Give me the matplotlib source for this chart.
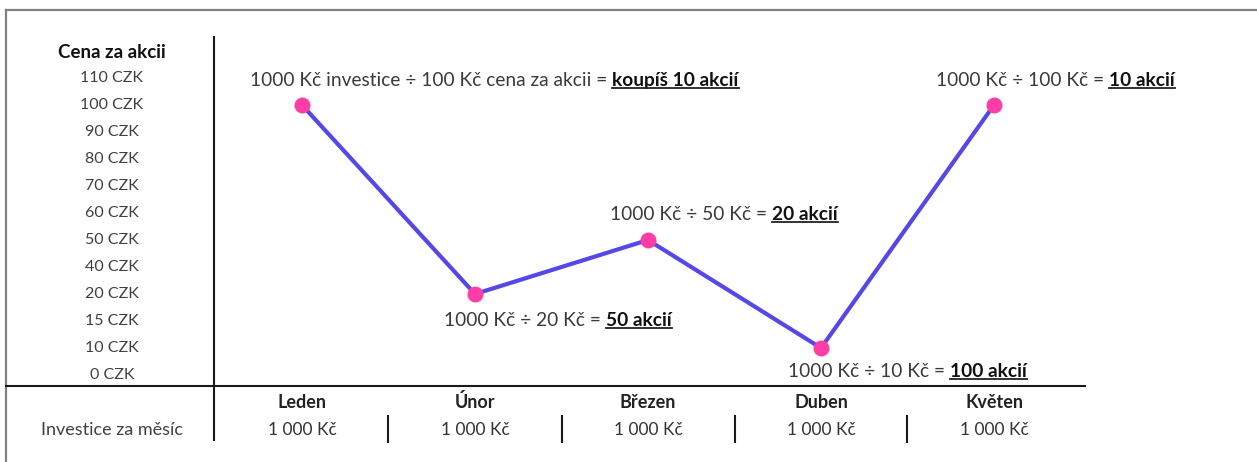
import matplotlib.pyplot as plt
from matplotlib.lines import Line2D

# data
months = ["Leden", "Únor", "Březen", "Duben", "Květen"]
prices = [100, 20, 50, 10, 100]
invest = ["1 000 Kč"] * 5
price_ticks = [110, 100, 90, 80, 70, 60, 50, 40, 20, 15, 10, 0]
plain_txt = [
    "1000 Kč investice ÷ 100 Kč cena za akcii =",
    "1000 Kč ÷ 20 Kč =",
    "1000 Kč ÷ 50 Kč =",
    "1000 Kč ÷ 10 Kč =",
    "1000 Kč ÷ 100 Kč =",
]
bold_txt = ["koupíš 10 akcií", "50 akcií", "20 akcií", "100 akcií", "10 akcií"]

# label offsets in pixels from the point (dx, dy of baseline)
label_off = [(-52, 19), (-31, -32), (-38, 20), (-33, -29), (-58, 19)]

W, H = 1257, 462
FONT = "Lato"
plt.rcParams["font.family"] = [FONT, "DejaVu Sans"]

fig = plt.figure(figsize=(W / 100, H / 100), dpi=100)
ax = fig.add_axes([0, 0, 1, 1])
ax.axis("off")

# x: month index -> pixel 302 + 173*i ; y: tick index -> pixel(top) 375 - 27*j
x0, dxp = 302, 173
y0, dyp = 375, 27
ax.set_xlim(-x0 / dxp, (W - x0) / dxp)
ax.set_ylim((y0 - H) / dyp, y0 / dyp)


def ypos(price):
    return len(price_ticks) - 1 - price_ticks.index(price)


def fx(px):
    return px / W


def fy(py):
    return 1 - py / H


# frame (top and left)
fig.add_artist(Line2D([fx(6), 1], [fy(10), fy(10)], color="#808080", lw=1.6))
fig.add_artist(Line2D([fx(6), fx(6)], [fy(10), 0], color="#808080", lw=1.6))

# axes lines
fig.add_artist(Line2D([fx(214), fx(214)], [fy(37), fy(440)], color="#1a1a1a", lw=1.5))
fig.add_artist(Line2D([fx(6), fx(1085)], [fy(386), fy(386)], color="#1a1a1a", lw=1.5))

# y labels
fig.text(fx(112), fy(52), "Cena za akcii", ha="center", va="center",
         fontsize=13.5, fontweight="bold", color="#111111")
for p in price_ticks:
    ax.text((112 - x0) / dxp, ypos(p), f"{p} CZK", ha="center", va="center",
            fontsize=11.5, color="#404040")

# line + markers
ys = [ypos(p) for p in prices]
xs = list(range(len(months)))
ax.plot(xs, ys, color="#5548e6", lw=3, zorder=2)
ax.plot(xs, ys, "o", color="#ff3da6", ms=11.5, zorder=3, mec="none")

# annotations
fig.canvas.draw()
renderer = fig.canvas.get_renderer()
bold_artists = []
for i in range(len(months)):
    dx, dy = label_off[i]
    t1 = ax.annotate(plain_txt[i], xy=(xs[i], ys[i]), xytext=(dx, dy),
                     textcoords="offset pixels", ha="left", va="baseline",
                     fontsize=13.8, color="#3a3a3a")
    t2 = ax.annotate(bold_txt[i], xy=(1, 0), xycoords=t1, xytext=(5, 0),
                     textcoords="offset pixels", ha="left", va="bottom",
                     fontsize=13.8, fontweight="bold", color="#111111")
    bold_artists.append(t2)

fig.canvas.draw()
for t2 in bold_artists:
    bb = t2.get_window_extent(renderer)
    yline = bb.y0 + 1
    fig.add_artist(Line2D([bb.x0 / W, bb.x1 / W], [yline / H, yline / H],
                          color="#222222", lw=1.3))

# bottom table
for i, m in enumerate(months):
    ax.text(i, (y0 - 402) / dyp, m, ha="center", va="center",
            fontsize=13, fontweight="bold", color="#222222")
    ax.text(i, (y0 - 430) / dyp, invest[i], ha="center", va="center",
            fontsize=12.5, color="#333333")
for i in range(len(months) - 1):
    xm = x0 + dxp * (i + 0.5)
    fig.add_artist(Line2D([fx(xm), fx(xm)], [fy(416), fy(442)], color="#1a1a1a", lw=1.5))
fig.text(fx(112), fy(430), "Investice za měsíc", ha="center", va="center",
         fontsize=13, color="#404040")

fig.savefig("out.png", dpi=100, facecolor="white")
